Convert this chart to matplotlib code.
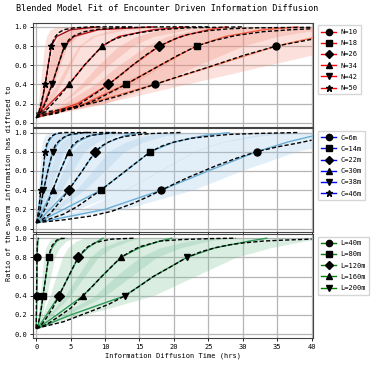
import numpy as np
import matplotlib
matplotlib.use("Agg")
import matplotlib.pyplot as plt
from matplotlib.lines import Line2D

plt.rcParams['font.family'] = ['DejaVu Sans Mono']

# ratio levels at which the measured curves / bands are sampled
LEVELS = [0.06, 0.2, 0.4, 0.6, 0.8, 0.9, 0.97, 1.0]

# ---- panel 1: swarm size N ----
N_LABELS = ['N=10', 'N=18', 'N=26', 'N=34', 'N=42', 'N=50']
N_MARKERS = ['o', 's', 'D', '^', 'v', '*']
N_DATA_T = [
    [0.2, 7.5, 17.2, 26.0, 34.9, 41.0, 48.0, 52.0],
    [0.2, 7.0, 13.0, 18.0, 23.3, 27.5, 33.0, 38.0],
    [0.2, 6.0, 10.5, 14.0, 17.9, 21.0, 25.0, 27.6],
    [0.2, 2.0, 4.75, 7.0, 9.6, 12.0, 17.0, 22.0],
    [0.2, 1.2, 2.3, 3.2, 4.1, 5.5, 9.0, 17.0],
    [0.2, 0.8, 1.3, 1.75, 2.2, 3.0, 5.0, 9.0],
]
N_EARLY = [
    [0.1, 5.0, 12.0, 18.0, 24.0, 28.0, 33.0, 36.0],
    [0.1, 4.0, 8.5, 12.0, 16.0, 19.0, 23.0, 27.0],
    [0.1, 3.5, 6.5, 9.0, 12.0, 14.5, 18.0, 21.0],
    [0.1, 1.2, 3.0, 4.5, 6.2, 8.0, 11.0, 15.0],
    [0.1, 0.6, 1.3, 1.9, 2.5, 3.3, 5.0, 8.0],
    [0.0, 0.3, 0.6, 0.9, 1.2, 1.5, 2.0, 3.0],
]
N_LATE = [
    [0.5, 10.0, 22.0, 34.0, 46.0, 54.0, 60.0, 64.0],
    [0.5, 10.0, 17.5, 23.5, 30.0, 35.0, 41.0, 45.0],
    [0.5, 8.5, 14.0, 18.5, 23.0, 27.0, 32.0, 36.0],
    [0.5, 3.5, 7.5, 10.5, 14.0, 17.0, 22.0, 27.0],
    [0.5, 2.0, 3.6, 5.0, 6.5, 8.5, 13.0, 20.0],
    [0.5, 1.5, 2.5, 3.5, 4.5, 6.0, 9.0, 13.0],
]
N_FIT_T = [
    [0, 3, 6, 9, 12, 17.2, 21, 25, 30, 34.9, 40],
    [0, 3, 6, 9, 13, 15.5, 18, 20.5, 23.3, 26, 29, 33, 37, 40],
    [0, 3, 6, 8.5, 10.5, 12.3, 14, 16, 17.9, 20, 22, 25, 28, 32, 40],
    [0, 1, 2, 3.3, 4.75, 5.9, 7, 8.3, 9.6, 11, 12.5, 15, 18, 22, 30],
    [0, 0.5, 1, 1.6, 2.3, 2.75, 3.2, 3.65, 4.1, 4.8, 5.6, 7, 9, 12, 18, 25],
    [0, 0.35, 0.7, 1.0, 1.3, 1.55, 1.75, 2.0, 2.2, 2.5, 2.8, 3.3, 4, 5.5, 8, 14],
]
N_FIT_R = [
    [0.1, 0.13, 0.17, 0.22, 0.28, 0.4, 0.49, 0.58, 0.7, 0.8, 0.87],
    [0.08, 0.11, 0.16, 0.25, 0.4, 0.5, 0.6, 0.7, 0.8, 0.86, 0.91, 0.95, 0.97, 0.98],
    [0.06, 0.1, 0.18, 0.3, 0.4, 0.5, 0.6, 0.71, 0.8, 0.87, 0.92, 0.96, 0.98, 0.99, 0.995],
    [0.05, 0.1, 0.17, 0.27, 0.4, 0.5, 0.6, 0.7, 0.8, 0.86, 0.9, 0.94, 0.97, 0.99, 1.0],
    [0.05, 0.09, 0.15, 0.25, 0.4, 0.5, 0.6, 0.7, 0.8, 0.87, 0.91, 0.95, 0.975, 0.99, 1.0, 1.0],
    [0.05, 0.1, 0.2, 0.29, 0.4, 0.5, 0.6, 0.7, 0.8, 0.86, 0.9, 0.94, 0.97, 0.99, 1.0, 1.0],
]

# ---- panel 2: communication range C ----
C_LABELS = ['C=6m', 'C=14m', 'C=22m', 'C=30m', 'C=38m', 'C=46m']
C_MARKERS = ['o', 's', 'D', '^', 'v', '*']
C_DATA_T = [
    [0.15, 10.0, 18.2, 25.0, 32.0, 36.5, 40.5, 43.0],
    [0.15, 4.0, 9.4, 13.0, 16.6, 20.0, 24.5, 28.0],
    [0.15, 2.0, 4.7, 6.7, 8.6, 10.5, 13.0, 15.0],
    [0.15, 1.0, 2.4, 3.5, 4.7, 6.0, 8.0, 11.0],
    [0.15, 0.5, 1.05, 1.7, 2.4, 3.3, 4.5, 7.0],
    [0.15, 0.35, 0.7, 1.0, 1.3, 1.8, 2.5, 3.5],
]
C_EARLY = [
    [0.0, 7.0, 13.0, 18.0, 23.0, 27.0, 32.0, 35.0],
    [0.0, 2.2, 5.8, 8.2, 10.5, 13.0, 16.0, 19.0],
    [0.0, 1.0, 2.7, 3.9, 5.2, 6.5, 8.5, 11.0],
    [0.0, 0.5, 1.4, 2.1, 2.8, 3.6, 5.0, 7.0],
    [0.0, 0.2, 0.6, 1.0, 1.4, 1.9, 2.7, 4.0],
    [0.0, 0.1, 0.3, 0.5, 0.7, 0.9, 1.3, 2.0],
]
C_LATE = [
    [0.3, 13.0, 23.0, 30.0, 38.0, 45.0, 52.0, 56.0],
    [0.3, 6.0, 13.0, 18.0, 23.0, 27.0, 33.0, 38.0],
    [0.3, 3.2, 7.0, 10.0, 12.8, 15.5, 19.0, 23.0],
    [0.3, 1.8, 3.7, 5.3, 7.0, 8.8, 11.5, 15.0],
    [0.3, 1.0, 2.0, 3.0, 4.0, 5.3, 7.0, 10.0],
    [0.3, 0.8, 1.4, 2.0, 2.6, 3.4, 4.5, 6.0],
]
C_FIT_T = [
    [0, 4, 8, 11, 14, 16.2, 18.2, 20.2, 22, 24, 26, 29, 32, 35, 38, 40],
    [0, 2, 4, 6, 8, 9.4, 11.2, 13, 14.8, 16.6, 18.3, 20, 22.5, 25, 28, 32, 38],
    [0, 1, 2, 3, 3.9, 4.7, 5.7, 6.7, 7.6, 8.6, 9.5, 10.5, 11.8, 13, 15, 17, 21],
    [0, 0.5, 1, 1.7, 2.4, 2.95, 3.5, 4.1, 4.7, 5.3, 6, 7, 8, 9.5, 11, 16],
    [0, 0.25, 0.5, 0.8, 1.05, 1.4, 1.7, 2.05, 2.4, 2.8, 3.3, 4, 5, 7, 12],
    [0, 0.15, 0.3, 0.5, 0.7, 0.85, 1.0, 1.15, 1.3, 1.5, 1.8, 2.2, 2.8, 4, 8],
]
C_FIT_R = [
    [0.06, 0.09, 0.13, 0.18, 0.26, 0.33, 0.4, 0.47, 0.53, 0.59, 0.65, 0.73, 0.8, 0.85, 0.89, 0.92],
    [0.06, 0.1, 0.15, 0.23, 0.33, 0.4, 0.5, 0.6, 0.7, 0.8, 0.86, 0.9, 0.94, 0.96, 0.98, 0.99, 1.0],
    [0.06, 0.1, 0.15, 0.24, 0.32, 0.4, 0.5, 0.6, 0.7, 0.8, 0.86, 0.9, 0.94, 0.96, 0.98, 0.99, 1.0],
    [0.06, 0.1, 0.16, 0.27, 0.4, 0.5, 0.6, 0.7, 0.8, 0.87, 0.91, 0.95, 0.97, 0.985, 0.995, 1.0],
    [0.06, 0.1, 0.16, 0.28, 0.4, 0.5, 0.6, 0.7, 0.8, 0.87, 0.91, 0.95, 0.98, 1.0, 1.0],
    [0.06, 0.1, 0.16, 0.28, 0.4, 0.5, 0.6, 0.7, 0.8, 0.87, 0.92, 0.96, 0.985, 1.0, 1.0],
]

# ---- panel 3: arena size L ----
L_LABELS = ['L=40m', 'L=80m', 'L=120m', 'L=160m', 'L=200m']
L_MARKERS = ['o', 's', 'D', '^', 'v']
L_DATA_T = [
    [0.0, 0.05, 0.1, 0.12, 0.14, 0.18, 0.24, 0.32],
    [0.2, 0.6, 1.0, 1.4, 1.8, 2.3, 3.0, 3.7],
    [0.2, 1.5, 3.3, 4.7, 6.1, 7.5, 9.0, 9.7],
    [0.2, 3.0, 6.8, 9.5, 12.3, 15.0, 18.0, 19.7],
    [0.2, 5.0, 12.9, 17.0, 21.9, 26.0, 31.0, 33.5],
]
L_EARLY = [
    [0.0, 0.02, 0.03, 0.05, 0.07, 0.1, 0.14, 0.2],
    [0.1, 0.3, 0.6, 0.85, 1.1, 1.4, 1.9, 2.4],
    [0.1, 0.9, 2.0, 2.9, 3.8, 4.6, 5.8, 7.0],
    [0.1, 1.8, 4.2, 6.0, 7.8, 9.5, 12.0, 14.0],
    [0.1, 3.5, 8.5, 11.5, 15.0, 18.0, 22.0, 25.0],
]
L_LATE = [
    [0.05, 0.06, 0.1, 0.15, 0.2, 0.25, 0.35, 0.45],
    [0.3, 0.9, 1.5, 2.1, 2.7, 3.4, 4.4, 5.5],
    [0.3, 2.3, 5.0, 7.0, 9.0, 11.0, 13.5, 15.0],
    [0.3, 4.5, 10.0, 13.8, 17.5, 21.0, 25.0, 28.0],
    [0.3, 7.0, 17.0, 23.0, 29.0, 34.0, 39.0, 43.0],
]
L_FIT_T = [
    [0, 0.03, 0.05, 0.09, 0.12, 0.16, 0.2, 0.35],
    [0, 0.25, 0.5, 0.75, 1.0, 1.2, 1.4, 1.6, 1.8, 2.05, 2.3, 2.6, 3, 3.6, 4.5],
    [0, 0.8, 1.5, 2.4, 3.3, 4.0, 4.7, 5.4, 6.1, 6.8, 7.5, 8.5, 9.5, 11, 14.3],
    [0, 1.5, 3, 5, 6.8, 8.2, 9.5, 10.9, 12.3, 13.7, 15, 16.5, 18, 21, 25, 29],
    [0, 4, 8, 10.5, 12.9, 15, 17, 19.5, 21.9, 24, 26, 28, 30, 33, 36, 40],
]
L_FIT_R = [
    [0.06, 0.2, 0.4, 0.6, 0.8, 0.92, 0.97, 1.0],
    [0.06, 0.1, 0.17, 0.27, 0.4, 0.5, 0.6, 0.7, 0.8, 0.87, 0.92, 0.95, 0.98, 0.995, 1.0],
    [0.06, 0.1, 0.17, 0.27, 0.4, 0.5, 0.6, 0.7, 0.8, 0.86, 0.91, 0.95, 0.97, 0.99, 1.0],
    [0.06, 0.1, 0.17, 0.27, 0.4, 0.5, 0.6, 0.7, 0.8, 0.86, 0.91, 0.94, 0.97, 0.985, 0.995, 1.0],
    [0.06, 0.13, 0.24, 0.31, 0.4, 0.5, 0.6, 0.7, 0.8, 0.86, 0.9, 0.93, 0.95, 0.97, 0.98, 0.99],
]

XTICKS = [0, 5, 10, 15, 20, 25, 30, 35, 40]
YTICKS = [0.0, 0.2, 0.4, 0.6, 0.8, 1.0]

fig = plt.figure(figsize=(3.73, 3.67), dpi=100)

left, width = 0.0877, 0.7523
h = 0.2838
gap = 0.0041
bottoms = [0.079 + 2 * (h + gap), 0.079 + h + gap, 0.079]

panels = [
    (N_LABELS, N_MARKERS, N_DATA_T, N_EARLY, N_LATE, N_FIT_T, N_FIT_R, plt.cm.Reds, 'red', '#f3907e'),
    (C_LABELS, C_MARKERS, C_DATA_T, C_EARLY, C_LATE, C_FIT_T, C_FIT_R, plt.cm.Blues, 'blue', '#9cc6e6'),
    (L_LABELS, L_MARKERS, L_DATA_T, L_EARLY, L_LATE, L_FIT_T, L_FIT_R, plt.cm.Greens, 'green', '#7cc196'),
]

axes = []
for i, (labels, markers, data_t, early, late, fit_t, fit_r, cmap, leg_col, band_col) in enumerate(panels):
    ax = fig.add_axes([left, bottoms[i], width, h])
    axes.append(ax)
    n = len(labels)
    for k in range(n):
        if i == 0:
            col = cmap(0.45 + 0.45 * k / (n - 1))
        elif i == 1:
            col = '#6aaed6'
        else:
            col = '#2e9a55'
        ax.fill_betweenx(LEVELS, early[k], late[k], color=band_col, alpha=0.28, lw=0)
        ax.plot(data_t[k], LEVELS, color=col, lw=1.0, zorder=3)
        ax.plot([data_t[k][2], data_t[k][4]], [LEVELS[2], LEVELS[4]], ls='none',
                marker=markers[k], color='black', ms=5, zorder=5)
        ax.plot(fit_t[k], fit_r[k], color='black', ls='--', lw=1.0,
                dashes=(3, 1.6), zorder=4)

    handles = [Line2D([0], [0], color=leg_col, lw=1.0, marker=m, mfc='black',
                      mec='black', ms=4.5) for m in markers]
    ax.legend(handles, labels, loc='upper left', bbox_to_anchor=(1.01, 0.985),
              fontsize=5, handlelength=2.2, borderpad=0.5, labelspacing=0.75,
              handletextpad=0.6, frameon=True, fancybox=False, borderaxespad=0.2)

    ax.set_xlim(-0.5, 40.25)
    ax.set_ylim(-0.04, 1.045)
    ax.set_xticks(XTICKS)
    ax.set_yticks(YTICKS)
    ax.set_yticklabels(['%.1f' % v for v in YTICKS])
    ax.grid(True, color='#b5b5b5', lw=0.9)
    ax.set_axisbelow(True)
    ax.tick_params(labelsize=5, length=2.5, width=0.6, pad=1.5)
    for sp in ax.spines.values():
        sp.set_linewidth(0.8)
        sp.set_color('#444444')
    if i < 2:
        ax.tick_params(labelbottom=False)

axes[2].set_xlabel('Information Diffusion Time (hrs)', fontsize=5, labelpad=2)
axes[0].set_title('Blended Model Fit of Encounter Driven Information Diffusion',
                  fontsize=6.1, loc='center', x=0.48, pad=8)
fig.text(0.025, 0.5, 'Ratio of the swarm information has diffused to', rotation=90,
         fontsize=5, va='center', ha='center')

fig.savefig('out.png', dpi=100)
